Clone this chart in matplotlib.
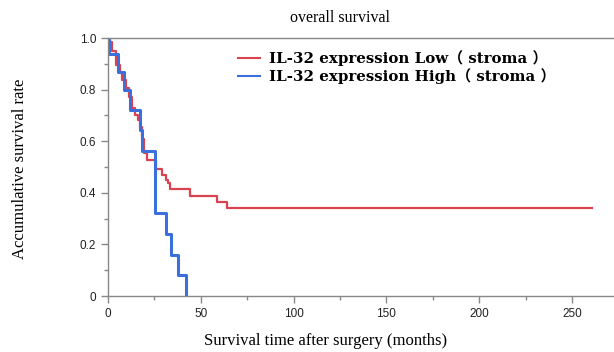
import numpy as np
import matplotlib
matplotlib.use("Agg")
import matplotlib.pyplot as plt
from matplotlib.ticker import MultipleLocator

# Kaplan-Meier steps (months, survival)
low_t = [0, 1.1, 2.3, 4.1, 6.4, 7.6, 9.9, 11.1, 12.9, 14.7, 15.9, 17.0, 18.2, 19.1,
         19.6, 20.8, 25.9, 29.1, 31.2, 32.3, 33.4, 44.2, 58.7, 64.0, 261.0]
low_s = [1.0, 0.985, 0.948, 0.896, 0.87, 0.838, 0.806, 0.77, 0.728, 0.70, 0.683, 0.657,
         0.61, 0.585, 0.553, 0.527, 0.491, 0.469, 0.45, 0.437, 0.414, 0.389, 0.363,
         0.342, 0.342]

high_t = [0, 0.5, 5.5, 8.5, 11.7, 17.0, 18.2, 25.3, 31.4, 33.7, 37.6, 42.0]
high_s = [1.0, 0.939, 0.868, 0.80, 0.72, 0.644, 0.562, 0.32, 0.24, 0.16, 0.08, 0.0]

labels = ["IL-32 expression Low（ stroma ）", "IL-32 expression High（ stroma ）"]

serif = ["Liberation Serif", "Noto Sans CJK SC"]

fig = plt.figure(figsize=(6.14, 3.52), dpi=100)
ax = fig.add_axes([0.176, 0.159, 0.824, 0.733])

ax.step(low_t, low_s, where="post", color="#d9434f", lw=1.6, label=labels[0])
ax.step(high_t, high_s, where="post", color="#3b6fdc", lw=2.2, label=labels[1])
ax.set_xlim(0, 272.6)
ax.set_ylim(0, 1.0)

ax.xaxis.set_major_locator(MultipleLocator(50))
ax.xaxis.set_minor_locator(MultipleLocator(25))
ax.yaxis.set_minor_locator(MultipleLocator(0.1))
ax.set_yticks([0, 0.2, 0.4, 0.6, 0.8, 1.0])
ax.set_yticklabels(["0", "0.2", "0.4", "0.6", "0.8", "1.0"])

for sp in ["left", "bottom", "top"]:
    ax.spines[sp].set_color("#888888")
    ax.spines[sp].set_linewidth(1.0)
ax.spines["right"].set_visible(False)
ax.tick_params(which="both", direction="out", color="#888888", width=1.0)
ax.tick_params(which="major", length=5, labelsize=8.5, labelcolor="#222222")
ax.tick_params(which="minor", length=3)
for lab in ax.get_xticklabels() + ax.get_yticklabels():
    lab.set_family("Liberation Sans")

leg = ax.legend(loc="upper left", bbox_to_anchor=(0.23, 1.005), frameon=False,
                handlelength=1.5, handletextpad=0.6, labelspacing=0.15,
                prop={"family": ["DejaVu Serif", "Noto Sans CJK SC"],
                      "weight": "bold", "size": 10.8})
for line in leg.get_lines():
    line.set_linewidth(1.5)

fig.text(0.553, 0.948, "overall survival", ha="center", va="center",
         family=serif, fontsize=11.5)
fig.text(0.53, 0.03, "Survival time after surgery (months)", ha="center", va="center",
         family=serif, fontsize=12)
fig.text(0.033, 0.52, "Accumulative survival rate", ha="center", va="center",
         rotation=90, family=serif, fontsize=12)

fig.savefig("out.png", dpi=100)
